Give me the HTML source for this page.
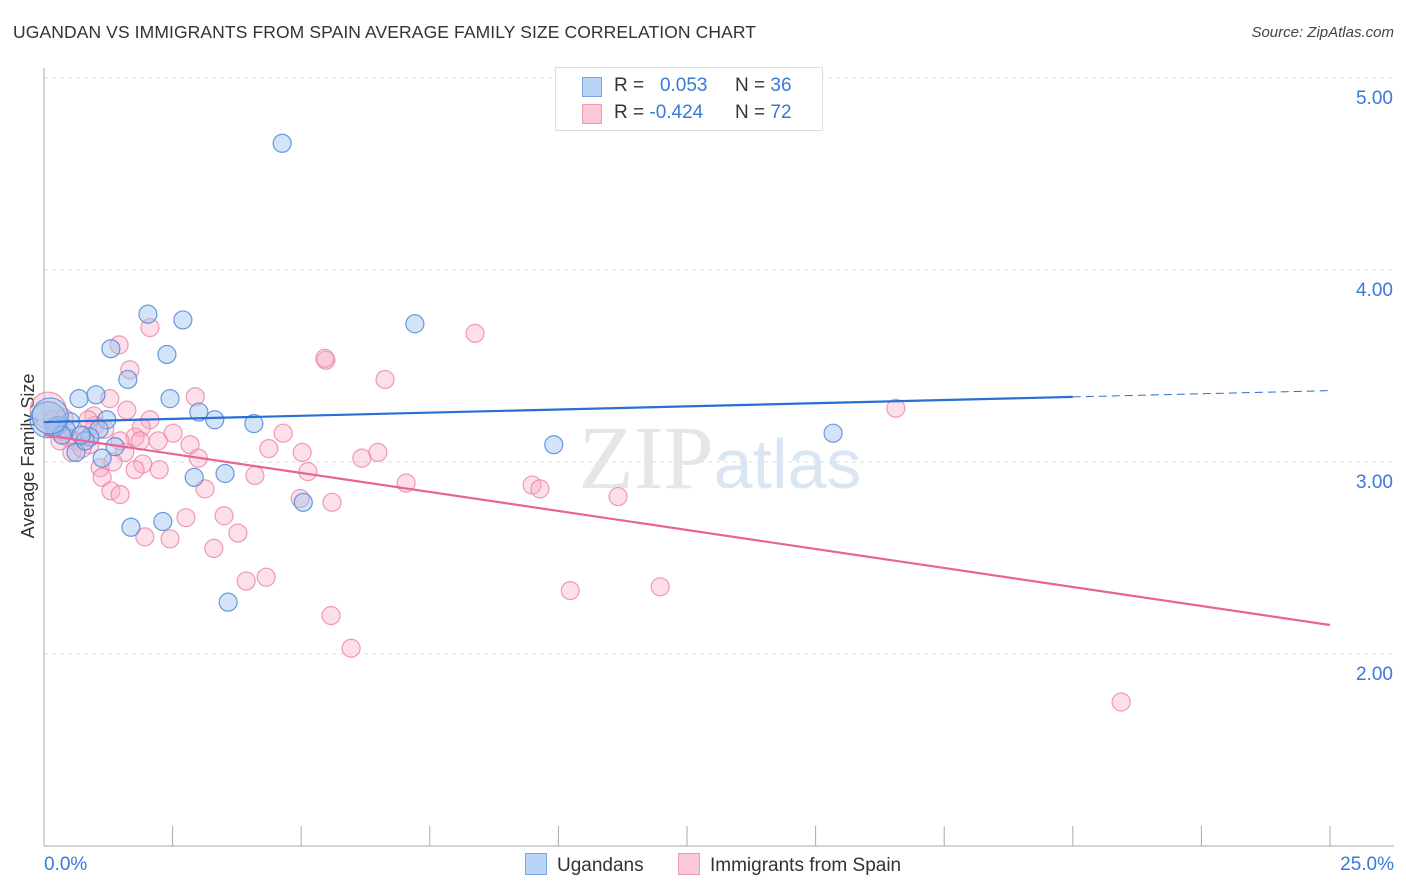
<!DOCTYPE html>
<html><head><meta charset="utf-8"><style>
body{margin:0;background:#fff;font-family:"Liberation Sans",sans-serif;}
#wrap{position:relative;width:1406px;height:892px;overflow:hidden;}
.t{position:absolute;white-space:nowrap;}
</style></head><body>
<div id="wrap">
<div class="t" style="left:13px;top:22px;font-size:17.5px;color:#333;letter-spacing:0.1px">UGANDAN VS IMMIGRANTS FROM SPAIN AVERAGE FAMILY SIZE CORRELATION CHART</div>
<div class="t" style="right:12px;top:24px;font-size:15px;color:#444;font-style:italic">Source: ZipAtlas.com</div>
<svg id="svg" width="1406" height="892" style="position:absolute;left:0;top:0"></svg>
</div>
<script>
const yTicks=[2,3,4,5];
const yTickLabels=["2.00","3.00","4.00","5.00"];
const xTickLabels=["0.0%","25.0%"];
const blueX=[4.63,2.02,2.70,1.30,2.39,1.63,7.21,1.01,0.68,2.45,3.01,3.32,4.08,1.22,0.51,0.27,1.07,0.89,1.38,9.91,15.34,0.62,1.13,3.52,2.92,5.04,1.69,2.31,3.58,0.21,0.80,0.43,0.08,0.35,0.72,0.12];
const blueY=[4.66,3.77,3.74,3.59,3.56,3.43,3.72,3.35,3.33,3.33,3.26,3.22,3.20,3.22,3.21,3.19,3.17,3.13,3.08,3.09,3.15,3.05,3.02,2.94,2.92,2.79,2.66,2.69,2.27,3.18,3.11,3.17,3.22,3.14,3.14,3.24];
const pinkX=[2.06,1.46,1.67,5.48,5.46,8.38,6.63,2.94,1.28,1.61,16.56,0.97,2.06,1.89,2.51,4.65,1.77,2.22,2.84,4.37,5.02,6.49,6.18,3.00,1.57,1.92,1.09,2.24,5.13,4.10,1.13,7.04,9.49,9.64,3.13,1.30,1.48,11.16,4.98,5.60,3.50,2.76,3.77,1.96,2.45,3.30,4.32,3.93,11.98,10.23,5.58,5.97,20.94,0.16,0.31,0.47,0.60,0.80,0.89,0.54,0.31,0.74,0.99,1.18,0.86,1.48,0.23,0.39,1.87,1.77,1.34,0.08];
const pinkY=[3.70,3.61,3.48,3.53,3.54,3.67,3.43,3.34,3.33,3.27,3.28,3.24,3.22,3.18,3.15,3.15,3.13,3.11,3.09,3.07,3.05,3.05,3.02,3.02,3.05,2.99,2.97,2.96,2.95,2.93,2.92,2.89,2.88,2.86,2.86,2.85,2.83,2.82,2.81,2.79,2.72,2.71,2.63,2.61,2.60,2.55,2.40,2.38,2.35,2.33,2.20,2.03,1.75,3.22,3.16,3.13,3.11,3.14,3.09,3.05,3.11,3.07,3.19,3.17,3.22,3.11,3.19,3.23,3.11,2.96,3.00,3.27];
const blueTrend=[3.208,0.00655];
const pinkTrend=[3.141,-0.0396];
const X=v=>44+v/25*1286;
const Y=v=>270-(v-4)*192;
const svg=document.getElementById('svg');
const NS='http://www.w3.org/2000/svg';
function mk(tag,attrs,parent){const e=document.createElementNS(NS,tag);for(const k in attrs)e.setAttribute(k,attrs[k]);(parent||svg).appendChild(e);return e;}
yTicks.forEach((t,i)=>{
const g=mk('line',{x1:44,x2:1394,y1:Y(t),y2:Y(t),stroke:'#ddd','stroke-dasharray':'4,4'});


const tx=mk('text',{x:1393,y:Y(t)+26,'text-anchor':'end','font-size':19,fill:'#3b78d8','font-family':'Liberation Sans, sans-serif'});
tx.textContent=yTickLabels[i];


});
const ax=mk('line',{x1:44,x2:44,y1:68,y2:846,stroke:'#aaa'});


const bx=mk('line',{x1:44,x2:1394,y1:846,y2:846,stroke:'#aaa'});


for(let i=0;i<=10;i++){const tk=mk('line',{x1:X(i*2.5),x2:X(i*2.5),y1:826,y2:846,stroke:'#aaa'});

}
[[0,'start',44],[1,'end',1394]].forEach(([i,a,x])=>{const t=mk('text',{x:x,y:870,'text-anchor':a,'font-size':19,fill:'#3b78d8','font-family':'Liberation Sans, sans-serif'});t.textContent=xTickLabels[i];

});
const yt=mk('text',{x:34,y:456,'text-anchor':'middle','font-size':18,fill:'#333',transform:'rotate(-90 34 456)','font-family':'Liberation Sans, sans-serif'});
yt.textContent='Average Family Size';


const wm=mk('text',{x:720,y:488,'text-anchor':'middle','font-size':90,fill:'#e6e6e6','font-family':'Liberation Serif, serif'});
wm.innerHTML='ZIP<tspan fill="#dbe6f5" font-family="Liberation Sans, sans-serif" font-size="70">atlas</tspan>';


function pts(xs,ys,fill,stroke,name){xs.forEach((x,i)=>{const big=x<0.13;const c=mk('circle',{cx:X(x),cy:Y(ys[i]),r:big?18:9,fill:fill,stroke:stroke,'stroke-width':1.2});

});}
pts(pinkX,pinkY,'rgba(248,175,198,0.4)','rgba(236,130,165,0.8)','point-spain');
pts(blueX,blueY,'rgba(160,195,240,0.45)','rgba(80,135,215,0.85)','point-ugandan');
const bl=mk('line',{x1:X(0),y1:Y(blueTrend[0]),x2:X(20),y2:Y(blueTrend[0]+blueTrend[1]*20),stroke:'#2a6fd6','stroke-width':2.2});


const bd=mk('line',{x1:X(20),y1:Y(blueTrend[0]+blueTrend[1]*20),x2:X(25),y2:Y(blueTrend[0]+blueTrend[1]*25),stroke:'#2a6fd6','stroke-width':1,'stroke-dasharray':'8,5'});


const pl=mk('line',{x1:X(0),y1:Y(pinkTrend[0]),x2:X(25),y2:Y(pinkTrend[0]+pinkTrend[1]*25),stroke:'#e8639a','stroke-width':2.2});


</script>
<div class="t" style="left:555px;top:67px;width:266px;height:62px;border:1px solid #ddd;background:#fff;font-size:19px;color:#333">
<div style="position:absolute;left:26px;top:9px;width:18px;height:18px;background:#b9d3f5;border:1px solid #7aa6e6"></div>
<div style="position:absolute;left:58px;top:7px">R = &nbsp;&nbsp;<span style="color:#3b78d8">0.053</span></div>
<div style="position:absolute;left:179px;top:7px">N = <span style="color:#3b78d8">36</span></div>
<div style="position:absolute;left:26px;top:36px;width:18px;height:18px;background:#fac8d8;border:1px solid #ee9ab8"></div>
<div style="position:absolute;left:58px;top:34px">R = <span style="color:#3b78d8">-0.424</span></div>
<div style="position:absolute;left:179px;top:34px">N = <span style="color:#3b78d8">72</span></div>
</div>
<div class="t" style="left:525px;top:853px;font-size:19px;color:#333"><span style="display:inline-block;width:20px;height:20px;background:#b9d3f5;border:1px solid #7aa6e6;vertical-align:-4px;margin-right:10px"></span>Ugandans</div>
<div class="t" style="left:678px;top:853px;font-size:19px;color:#333"><span style="display:inline-block;width:20px;height:20px;background:#fac8d8;border:1px solid #ee9ab8;vertical-align:-4px;margin-right:10px"></span>Immigrants from Spain</div>
</body></html>
